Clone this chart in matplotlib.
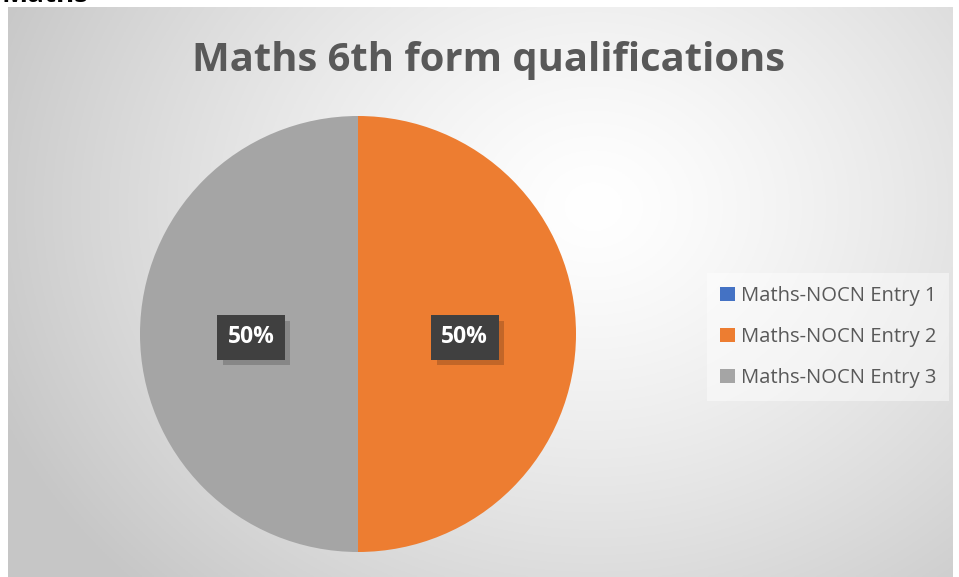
import numpy as np
import matplotlib.pyplot as plt
from matplotlib import patheffects

# data
labels = ["Maths-NOCN Entry 1", "Maths-NOCN Entry 2", "Maths-NOCN Entry 3"]
values = [0, 50, 50]
colors = ["#4472C4", "#ED7D31", "#A5A5A5"]
title = "Maths 6th form qualifications"

W, H = 959, 577
fig = plt.figure(figsize=(W / 100, H / 100), dpi=100)
fig.patch.set_facecolor("white")

# chart area with radial gradient background
x0, y0, x1, y1 = 8, 7, 953, 577
bg = fig.add_axes([x0 / W, 1 - y1 / H, (x1 - x0) / W, (y1 - y0) / H])
gx, gy = np.meshgrid(np.linspace(0, 1, 400), np.linspace(0, 1, 300))
cx, cy = 0.62, 0.35
d = np.sqrt(((gx - cx) * 1.25) ** 2 + ((gy - cy) * 0.9) ** 2)
d = np.clip(d / 0.85, 0, 1)
shade = 1.0 - 0.22 * d ** 1.3
bg.imshow(np.dstack([shade] * 3), aspect="auto", extent=[0, 1, 0, 1], origin="upper")
bg.set_axis_off()

# cut-off heading above the chart
fig.text(1 / W, 1 - 2.5 / H, "Maths", fontsize=20, fontweight="bold",
         family="Open Sans", color="black", ha="left", va="baseline")

# pie
pcx, pcy, r = 358, 334, 218
ax = fig.add_axes([(pcx - r) / W, 1 - (pcy + r) / H, 2 * r / W, 2 * r / H])
wedges, _ = ax.pie(values, colors=colors, startangle=90, counterclock=False,
                   radius=1, wedgeprops=dict(linewidth=0))
ax.set_xlim(-1, 1)
ax.set_ylim(-1, 1)
ax.set_aspect("auto")
ax.set_axis_off()

total = sum(values)
for w, v in zip(wedges, values):
    if v == 0:
        continue
    ang = np.deg2rad((w.theta1 + w.theta2) / 2)
    lx, ly = 0.49 * np.cos(ang), 0.49 * np.sin(ang)
    t = ax.text(lx, ly - 0.015, f"{v / total * 100:.0f}%", ha="center", va="center",
                fontsize=16.5, fontweight="bold", family="Open Sans", color="white",
                bbox=dict(boxstyle="square,pad=0.45", facecolor="#404040",
                          linewidth=0))
    t.get_bbox_patch().set_path_effects([
        patheffects.SimplePatchShadow(offset=(4, -4), shadow_rgbFace="black", alpha=0.18),
        patheffects.Normal()])

# title
fig.text(488 / W, 1 - 60 / H, title, fontsize=28.8, fontweight="bold",
         family="Open Sans", color="#595959", ha="center", va="center")

# legend
leg = fig.legend(wedges, labels, loc="center left",
                 bbox_to_anchor=(697 / W, 1 - 337 / H), frameon=True,
                 labelspacing=1.05, handlelength=0.7, handleheight=0.7,
                 handletextpad=0.3, borderpad=0.65,
                 prop=dict(family="Open Sans", size=14.6))
leg.get_frame().set_facecolor("white")
leg.get_frame().set_alpha(0.45)
leg.get_frame().set_linewidth(0)
leg.get_frame().set_boxstyle("square,pad=0")
for t in leg.get_texts():
    t.set_color("#595959")

fig.savefig("out.png", dpi=100)
